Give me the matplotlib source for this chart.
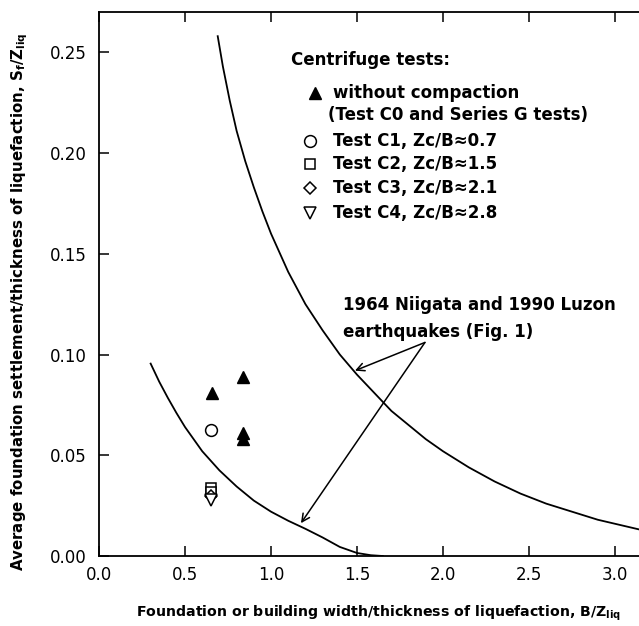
import numpy as np
import matplotlib
matplotlib.use("Agg")
import matplotlib.pyplot as plt

# krzywe z obserwacji terenowych (Niigata 1964, Luzon 1990)
upper_x = [0.69, 0.72, 0.76, 0.80, 0.85, 0.90, 0.95, 1.0, 1.1, 1.2, 1.3, 1.4, 1.5, 1.6,
           1.7, 1.8, 1.9, 2.0, 2.15, 2.3, 2.45, 2.6, 2.75, 2.9, 3.05, 3.2]
upper_y = [0.258, 0.243, 0.226, 0.211, 0.196, 0.183, 0.171, 0.160, 0.141, 0.125, 0.112,
           0.100, 0.090, 0.081, 0.072, 0.065, 0.058, 0.052, 0.044, 0.037, 0.031, 0.026,
           0.022, 0.018, 0.015, 0.012]
lower_x = [0.30, 0.35, 0.40, 0.45, 0.50, 0.55, 0.60, 0.70, 0.80, 0.90, 1.0, 1.1, 1.2,
           1.3, 1.4, 1.5, 1.58, 1.65]
lower_y = [0.0955, 0.0865, 0.0785, 0.071, 0.064, 0.058, 0.052, 0.0425, 0.0345, 0.0275,
           0.022, 0.0175, 0.0135, 0.0092, 0.0045, 0.0015, 0.0004, 0.0]

# testy wirówkowe
c0_x = [0.655, 0.835, 0.835, 0.835]
c0_y = [0.081, 0.089, 0.061, 0.058]
c1_x = [0.651]
c1_y = [0.0624]
c2_x = [0.651, 0.651]
c2_y = [0.034, 0.032]
c3_x = [0.651]
c3_y = [0.030]
c4_x = [0.651]
c4_y = [0.028]

x_ticks = [0.0, 0.5, 1.0, 1.5, 2.0, 2.5, 3.0]
y_ticks = [0.00, 0.05, 0.10, 0.15, 0.20, 0.25]

fig = plt.figure(figsize=(6.39, 6.26), dpi=100)
ax = fig.add_axes([0.155, 0.1118, 0.942, 0.869])

ax.plot(upper_x, upper_y, color='black', lw=1.3)
ax.plot(lower_x, lower_y, color='black', lw=1.3)

ms = 8.5
ax.plot(c0_x, c0_y, '^', color='black', ms=ms, ls='none')
ax.plot(c1_x, c1_y, 'o', mfc='white', mec='black', mew=1.1, ms=ms, ls='none')
ax.plot(c2_x, c2_y, 's', mfc='white', mec='black', mew=1.1, ms=7, ls='none')
ax.plot(c3_x, c3_y, 'D', mfc='white', mec='black', mew=1.1, ms=6, ls='none')
ax.plot(c4_x, c4_y, 'v', mfc='white', mec='black', mew=1.1, ms=ms, ls='none')

# legenda rysowana ręcznie
fs = 12
ax.text(1.116, 0.246, 'Centrifuge tests:', fontsize=fs, fontweight='bold', va='center')
ax.plot([1.256], [0.230], '^', color='black', ms=ms)
ax.text(1.36, 0.230, 'without compaction', fontsize=fs, fontweight='bold', va='center')
ax.text(1.331, 0.2188, '(Test C0 and Series G tests)', fontsize=fs, fontweight='bold', va='center')
rows = [(0.206, 'o', 'Test C1, Zc/B\u22480.7'),
        (0.1946, 's', 'Test C2, Zc/B\u22481.5'),
        (0.1827, 'D', 'Test C3, Zc/B\u22482.1'),
        (0.170, 'v', 'Test C4, Zc/B\u22482.8')]
for yy, mk, lab in rows:
    size = {'o': ms, 's': 7, 'D': 6, 'v': ms}[mk]
    ax.plot([1.227], [yy], mk, mfc='white', mec='black', mew=1.1, ms=size)
    ax.text(1.36, yy, lab, fontsize=fs, fontweight='bold', va='center')

# opis krzywych ze strzałkami
ax.text(1.419, 0.1248, '1964 Niigata and 1990 Luzon', fontsize=fs, fontweight='bold', va='center')
ax.text(1.419, 0.1114, 'earthquakes (Fig. 1)', fontsize=fs, fontweight='bold', va='center')
tail = (1.895, 0.106)
for head in [(1.488, 0.092), (1.174, 0.0163)]:
    ax.annotate('', xy=head, xytext=tail,
                arrowprops=dict(arrowstyle='->', color='black', lw=1.1,
                                shrinkA=0, shrinkB=0, mutation_scale=14))

ax.set_xlim(0, 3.5)
ax.set_ylim(0, 0.27)
ax.set_xticks(x_ticks)
ax.set_yticks(y_ticks)
ax.set_xticklabels(['%.1f' % v for v in x_ticks])
ax.set_yticklabels(['%.2f' % v for v in y_ticks])
ax.tick_params(direction='in', length=7, width=1.1, labelsize=12, top=True, right=True)
ax.tick_params(axis='y', pad=9)
ax.tick_params(axis='x', pad=7)
for s in ax.spines.values():
    s.set_linewidth(1.3)

ax.set_xlabel('Foundation or building width/thickness of liquefaction, B/Z$_{\\mathbf{liq}}$',
              fontsize=10.2, fontweight='bold')
ax.set_ylabel('Average foundation settlement/thickness of liquefaction, S$_{\\mathbf{f}}$/Z$_{\\mathbf{liq}}$',
              fontsize=10.8, fontweight='bold')
ax.xaxis.set_label_coords((378 - 99) / (0.942 * 639), -0.088)
ax.yaxis.set_label_coords(-0.115, (556 - 302) / (0.869 * 626))

fig.savefig('out.png', dpi=100)
